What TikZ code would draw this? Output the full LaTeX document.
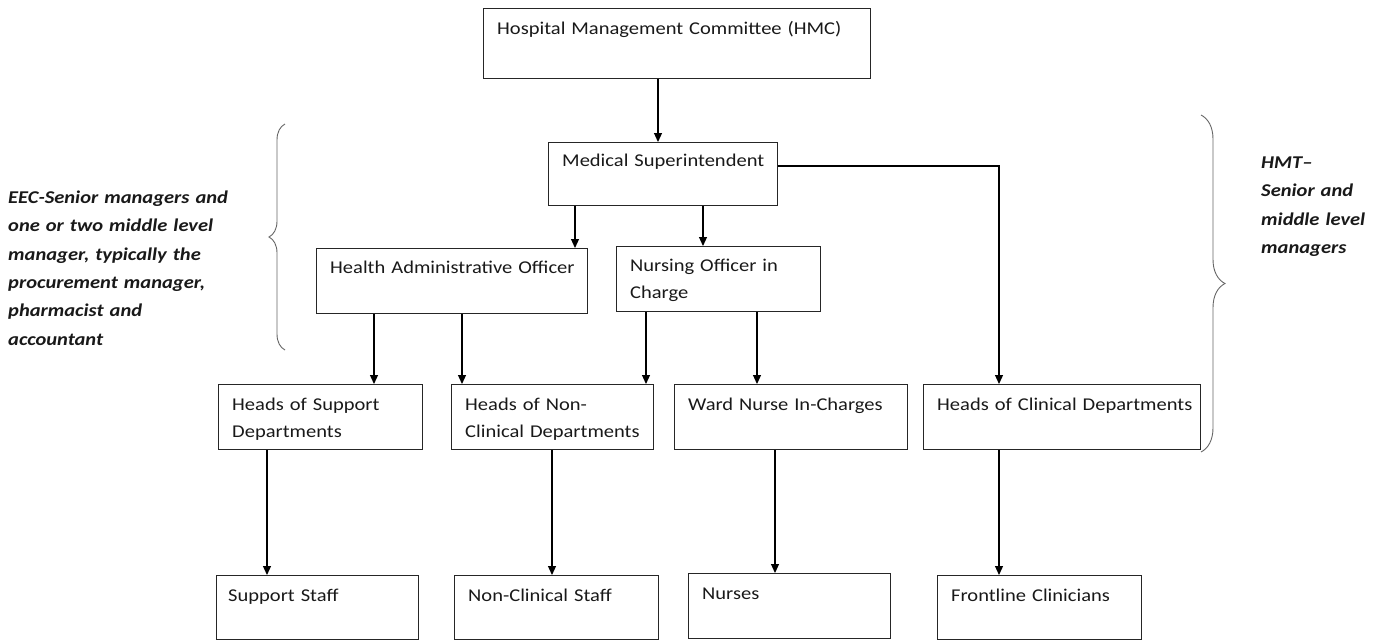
\documentclass[tikz,border=0pt]{standalone}
\usepackage{fontspec}
\setmainfont{Carlito}[FakeStretch=1.14, WordSpace=0.5]
\usetikzlibrary{arrows.meta,decorations.pathreplacing}

\begin{document}
\begin{tikzpicture}[x=1pt, y=-1pt,
  box/.style={draw=black!85, line width=1.4pt, anchor=north west, inner sep=0pt},
  txt/.style={anchor=north west, inner sep=0pt, text height=0pt, text width=400pt,
    align=left, text=black!90, font=\fontsize{18}{27}\selectfont},
  note/.style={anchor=north west, inner sep=0pt, text height=0pt, text width=300pt,
    align=left, text=black!90, font=\fontsize{18}{28.4}\selectfont\bfseries\itshape},
  arr/.style={draw=black, line width=1.2pt, -{Triangle[length=9pt,width=8pt]}},
  brace/.style={draw=black!60, line width=0.9pt, decorate,
    decoration={brace, amplitude=#1}}
]
\useasboundingbox (0,0) rectangle (1374,641);

% boxes
\node[box, minimum width=387pt, minimum height=70pt] (hmc)  at (483,8)   {};
\node[box, minimum width=229pt, minimum height=63pt] (ms)   at (548,142) {};
\node[box, minimum width=271pt, minimum height=65pt] (hao)  at (316,248) {};
\node[box, minimum width=204pt, minimum height=65pt] (noic) at (616,246) {};
\node[box, minimum width=204pt, minimum height=65pt] (hsd)  at (218,384) {};
\node[box, minimum width=202pt, minimum height=65pt] (hncd) at (451,384) {};
\node[box, minimum width=233pt, minimum height=65pt] (wnic) at (674,384) {};
\node[box, minimum width=277pt, minimum height=65pt] (hcd)  at (923,384) {};
\node[box, minimum width=202pt, minimum height=64pt] (ss)   at (216,575) {};
\node[box, minimum width=204pt, minimum height=64pt] (ncs)  at (454,575) {};
\node[box, minimum width=202pt, minimum height=65pt] (nur)  at (688,573) {};
\node[box, minimum width=204pt, minimum height=64pt] (fc)   at (937,575) {};

% box texts, set from the top left corner of each box
\node[txt] (hmc-t)  at ([shift={(14,26)}]hmc.north west)  {Hospital Management Committee (HMC)};
\node[txt] (ms-t)   at ([shift={(14,24)}]ms.north west)   {Medical Superintendent};
\node[txt] (hao-t)  at ([shift={(14,25)}]hao.north west)  {Health Administrative Officer};
\node[txt] (noic-t) at ([shift={(14,25)}]noic.north west) {Nursing Officer in\\Charge};
\node[txt] (hsd-t)  at ([shift={(14,26)}]hsd.north west)  {Heads of Support\\Departments};
\node[txt] (hncd-t) at ([shift={(14,26)}]hncd.north west) {Heads of Non-\\Clinical Departments};
\node[txt] (wnic-t) at ([shift={(14,26)}]wnic.north west) {Ward Nurse In-Charges};
\node[txt] (hcd-t)  at ([shift={(14,26)}]hcd.north west)  {Heads of Clinical Departments};
\node[txt] (ss-t)   at ([shift={(12,26)}]ss.north west)   {Support Staff};
\node[txt] (ncs-t)  at ([shift={(14,26)}]ncs.north west)  {Non-Clinical Staff};
\node[txt] (nur-t)  at ([shift={(14,26)}]nur.north west)  {Nurses};
\node[txt] (fc-t)   at ([shift={(14,26)}]fc.north west)   {Frontline Clinicians};

% reporting lines
\draw[arr] (658,0 |- hmc.south) -- (658,0 |- ms.north);
\draw[arr] (575,0 |- ms.south) -- (575,0 |- hao.north);
\draw[arr] (703,0 |- ms.south) -- (703,0 |- noic.north);
\draw[arr] (ms.east |- 0,166) -| (999,0 |- hcd.north);
\draw[arr] (374,0 |- hao.south) -- (374,0 |- hsd.north);
\draw[arr] (462,0 |- hao.south) -- (462,0 |- hncd.north);
\draw[arr] (646,0 |- noic.south) -- (646,0 |- hncd.north);
\draw[arr] (757,0 |- noic.south) -- (757,0 |- wnic.north);
\draw[arr] (267,0 |- hsd.south) -- (267,0 |- ss.north);
\draw[arr] (552,0 |- hncd.south) -- (552,0 |- ncs.north);
\draw[arr] (775,0 |- wnic.south) -- (775,0 |- nur.north);
\draw[arr] (999,0 |- hcd.south) -- (999,0 |- fc.north);

% committee braces and their notes
\draw[brace=16] (285,350) -- (285,124);
\draw[brace=24] (1201,115) -- (1201,452);

\node[note] (eec) at (8,203) {EEC-Senior managers and\\one or two middle level\\manager, typically the\\procurement manager,\\pharmacist and\\accountant};
\node[note] (hmt) at (1261,168) {HMT–\\Senior and\\middle level\\managers};

\end{tikzpicture}
\end{document}
